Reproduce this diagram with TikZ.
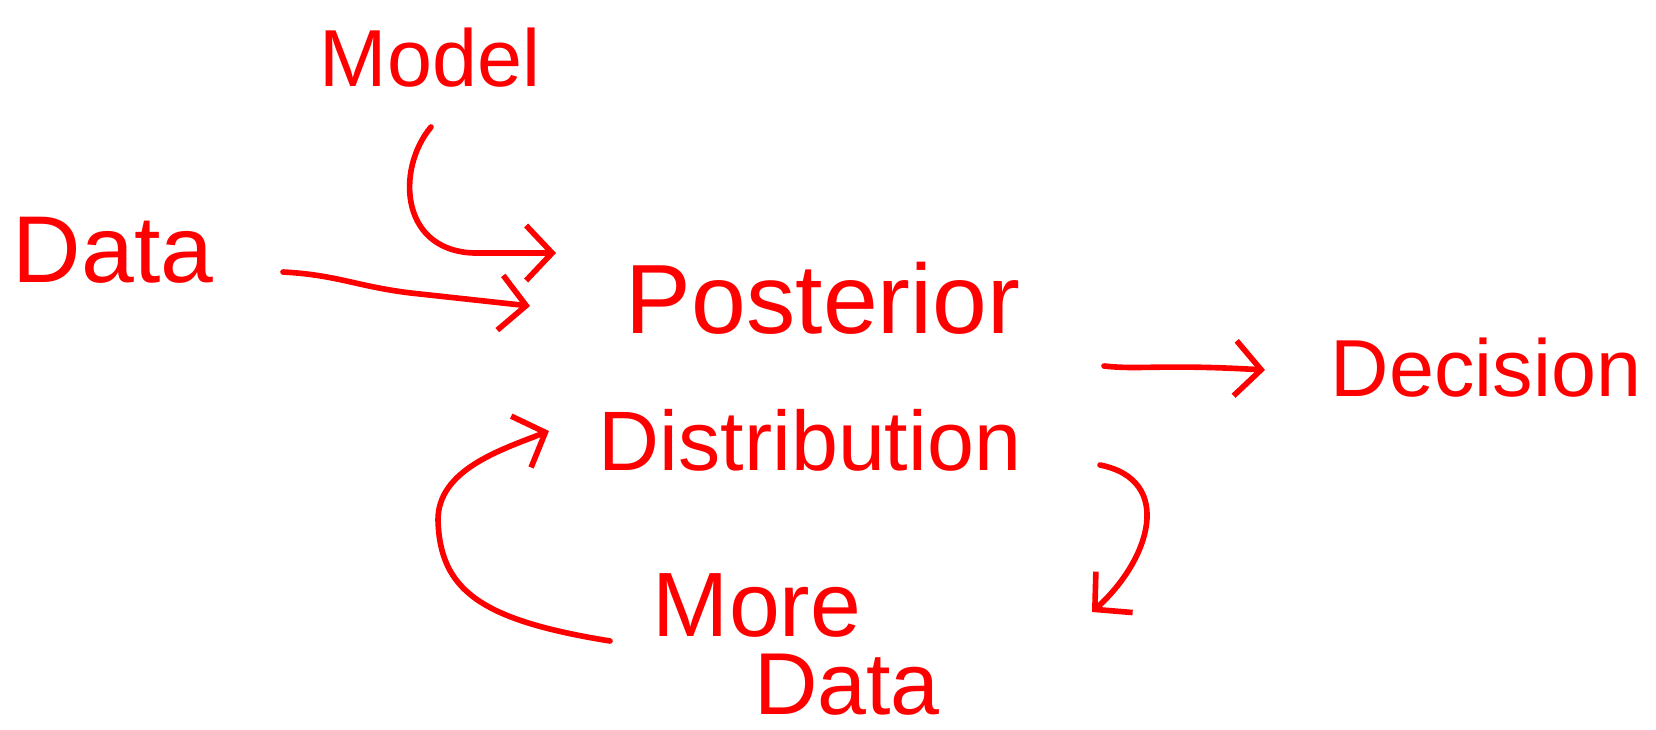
\documentclass[tikz,border=0pt]{standalone}
\usepackage{fontspec}
\setmainfont{Liberation Sans}
\usetikzlibrary{arrows.meta}
\begin{document}
\begin{tikzpicture}[x=0.01cm,y=-0.01cm,
  hand/.style={text=red, inner sep=0pt, font=\fontsize{26}{30}\selectfont},
  conn/.style={draw=red, line width=1.6pt, line cap=round, line join=round,
    -{Straight Barb[length=2.6mm,width=5.5mm,line width=1.6pt]}}]
\useasboundingbox (0,0) rectangle (1656,730);
\node[hand, font=\fontsize{23}{26}\selectfont] (model) at (430,58) {Model};
\node[hand, font=\fontsize{27}{30}\selectfont] (data) at (113,250) {Data};
\node[hand, font=\fontsize{28}{32}\selectfont] (post) at (823,298) {Posterior};
\node[hand, font=\fontsize{24}{28}\selectfont] (dist) at (810,440) {Distribution};
\node[hand, font=\fontsize{23}{26}\selectfont] (dec) at (1486,368) {Decision};
\node[hand] (more) at (757,605) {More};
\node[hand, font=\fontsize{25}{28}\selectfont] (mdata) at (847,685) {Data};
\coordinate (m1) at (431,127);
\coordinate (m2) at (556,253);
\coordinate (d1) at (283,272);
\coordinate (d2) at (530,306);
\coordinate (p1) at (1104,366);
\coordinate (p2) at (1265,370);
\coordinate (q1) at (1100,465);
\coordinate (q2) at (1092,612);
\coordinate (r1) at (610,641);
\coordinate (r2) at (549,431);
\draw[conn] (m1) .. controls (395,170) and (400,255) .. (480,253) -- (m2);
\draw[conn] (d1) .. controls (340,275) and (360,288) .. (420,294) -- (d2);
\draw[conn] (p1) .. controls (1140,370) and (1160,364) .. (p2);
\draw[conn] (q1) .. controls (1175,480) and (1150,560) .. (q2);
\draw[conn] (r1) .. controls (480,620) and (440,590) .. (438,520) .. controls (438,470) and (500,450) .. (r2);
\end{tikzpicture}
\end{document}
